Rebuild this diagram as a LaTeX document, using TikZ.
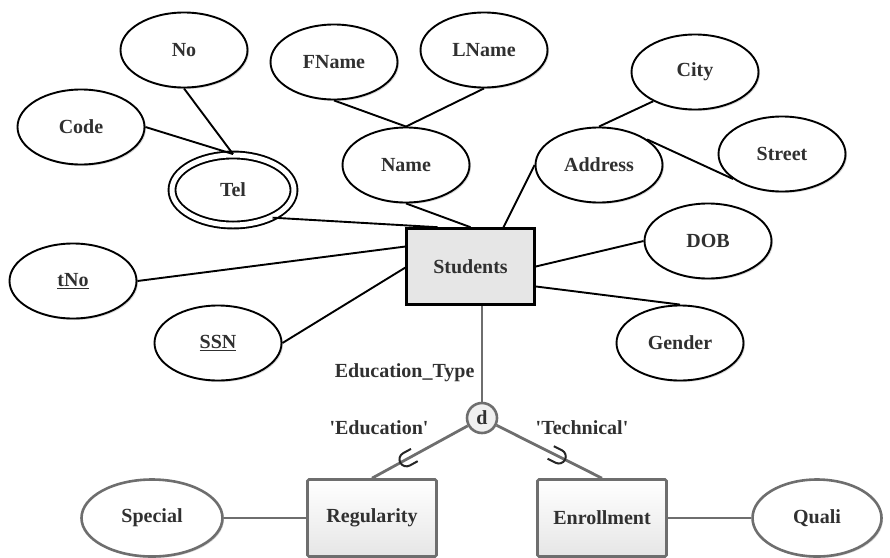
\documentclass[tikz,border=0pt]{standalone}
\usepackage{fontspec}
\setmainfont{Liberation Serif}
\usepackage{tikz}
\usetikzlibrary{shapes.geometric,shadows}
\definecolor{txtgray}{HTML}{303030}
\definecolor{linegray}{HTML}{6E6E6E}
\definecolor{boxgray}{HTML}{E6E6E6}

\begin{document}
\begin{tikzpicture}[x=1pt,y=-1pt,
        every node/.style={align=center,text=txtgray,font=\fontsize{20}{24}\selectfont\bfseries},
        attr/.style={shape=ellipse,draw,fill=white,line width=1.9pt,minimum width=127pt,minimum height=75pt,inner sep=0pt,
            drop shadow={fill=black!30,opacity=.5,shadow xshift=1.5pt,shadow yshift=-1.5pt}},
        grayattr/.style={attr,draw=linegray,line width=2.6pt},
        entity/.style={draw,line width=2.6pt,fill=boxgray,minimum width=128pt,minimum height=76pt},
        subent/.style={draw=linegray,line width=2.6pt,top color=white,bottom color=boxgray,rounded corners=1.5pt,minimum width=129pt,minimum height=77pt},
        disj/.style={shape=circle,draw=linegray,fill=boxgray!60,line width=2.6pt,minimum size=30pt,inner sep=0pt},
        conn/.style={line width=1.9pt},
        grayconn/.style={draw=linegray,line width=2.8pt},
        subsetmark/.pic={\draw[line width=2pt,draw=black!85] (-9pt,7pt) -- (0pt,7pt) arc[start angle=90,end angle=-90,radius=7pt] -- (-9pt,-7pt);}]
    \useasboundingbox (0,0) rectangle (890,557);
    \node[attr] (no) at (184,50) {No};
    \node[attr] (code) at (81,127) {Code};
    \node[attr,double,double distance=5pt,minimum width=122pt,minimum height=70pt] (tel) at (233,190) {Tel};
    \node[attr] (fname) at (334,62) {FName};
    \node[attr] (lname) at (484,50) {LName};
    \node[attr] (name) at (406,165) {Name};
    \node[attr] (city) at (695,72) {City};
    \node[attr] (street) at (782,154) {Street};
    \node[attr] (address) at (599,165) {Address};
    \node[attr] (dob) at (708,241) {DOB};
    \node[attr] (tno) at (73,281) {\underline{tNo}};
    \node[attr] (ssn) at (218,343) {\underline{SSN}};
    \node[attr] (gender) at (680,343) {Gender};
    \node[entity] (stu) at (470.5,266.5) {Students};
    \node[disj] (d) at (482,418) {d};
    \node[subent] (reg) at (372,518) {Regularity};
    \node[subent] (enr) at (602,518) {Enrollment};
    \node[grayattr,minimum width=141pt,minimum height=77pt] (special) at (152,518) {Special};
    \node[grayattr,minimum width=129pt,minimum height=77pt] (quali) at (817,518) {Quali};
    \node[anchor=east] (etype) at (478,373) {Education\_Type};
    \node (edu) at (379,428) {\textquotesingle Education\textquotesingle};
    \node (tech) at (582,428) {\textquotesingle Technical\textquotesingle};

    \draw[conn] (no.south) -- (tel.north);
    \draw[conn] (code.east) -- (tel.north);
    \draw[conn] (fname.south) -- (name.north);
    \draw[conn] (lname.south) -- (name.north);
    \draw[conn] (address.north) -- (city.215);
    \draw[conn] (address.28) -- (street.207);
    \draw[conn] (tel.-35) -- (stu.130);
    \draw[conn] (name.south) -- (stu.90);
    \draw[conn] (address.west) -- (stu.50);
    \draw[conn] (tno.east) -- (stu.163);
    \draw[conn] (ssn.east) -- (stu.181);
    \draw[conn] (stu.east) -- (dob.west);
    \draw[conn] (stu.-17) -- (gender.north);
    \draw[grayconn] (d) -- (d |- stu.south);
    \draw[grayconn] (d) -- (reg.north) pic[pos=.64,sloped,allow upside down] {subsetmark};
    \draw[grayconn] (d) -- (enr.north) pic[pos=.59,sloped,allow upside down] {subsetmark};
    \draw[grayconn] (special) -- (reg);
    \draw[grayconn] (enr) -- (quali);
\end{tikzpicture}
\end{document}
